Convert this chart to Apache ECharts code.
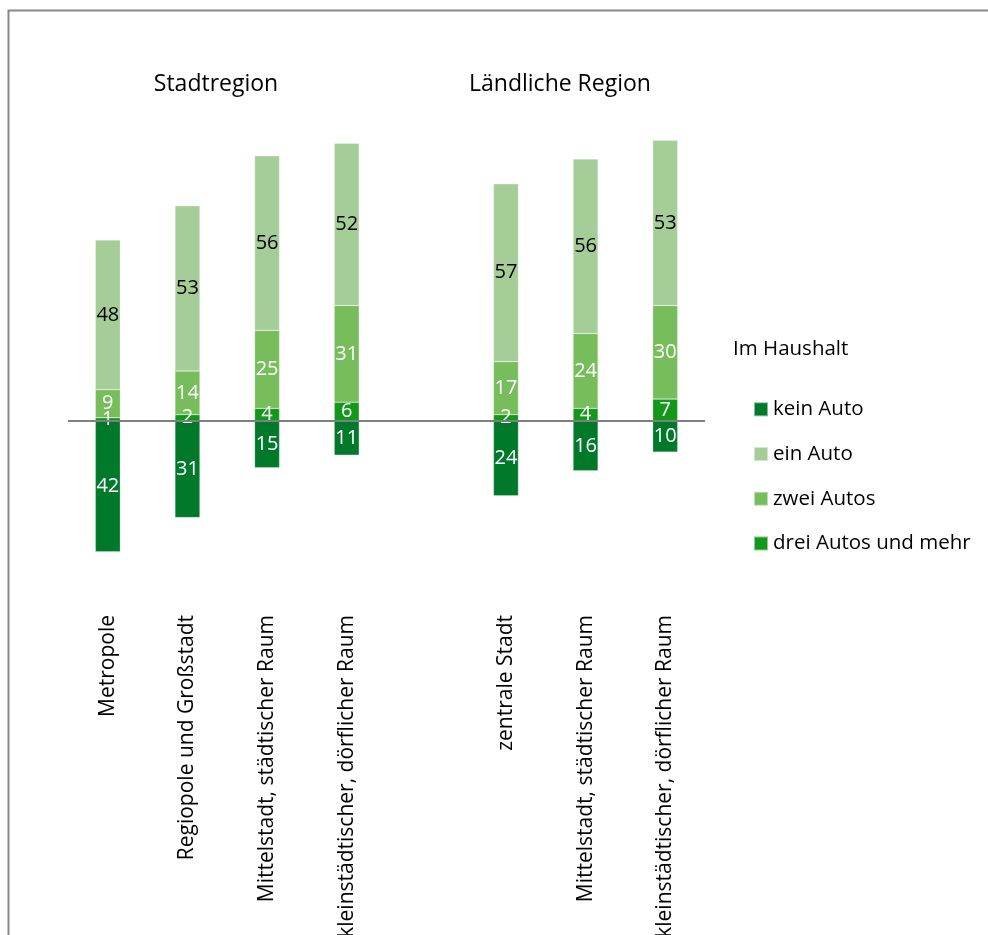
<!DOCTYPE html>
<html>
<head>
<meta charset="utf-8">
<script src="https://cdn.jsdelivr.net/npm/echarts@6/dist/echarts.min.js"></script>
<style>
html,body{margin:0;padding:0;background:#fff;}
#chart{width:988px;height:935px;}
</style>
</head>
<body>
<div id="chart"></div>
<script>
const categories = ['Metropole', 'Regiopole und Großstadt', 'Mittelstadt, städtischer Raum', 'kleinstädtischer, dörflicher Raum', '', 'zentrale Stadt', 'Mittelstadt, städtischer Raum', 'kleinstädtischer, dörflicher Raum'];
const keinAuto = [42, 31, 15, 11, null, 24, 16, 10];
const einAuto = [48, 53, 56, 52, null, 57, 56, 53];
const zweiAutos = [9, 14, 25, 31, null, 17, 24, 30];
const dreiAutos = [1, 2, 4, 6, null, 2, 4, 7];
const seriesNames = ['kein Auto', 'ein Auto', 'zwei Autos', 'drei Autos und mehr'];
const groupTitles = ['Stadtregion', 'Ländliche', 'Region'];
const legendTitle = 'Im Haushalt';

const FONT = 'Open Sans';
const colors = {
  'kein Auto': '#00792B',
  'ein Auto': '#A5CD98',
  'zwei Autos': '#77BD5C',
  'drei Autos und mehr': '#12991C'
};

function mkSeries(name, data, neg, labelColor) {
  return {
    name: name,
    type: 'bar',
    stack: 'total',
    barWidth: 25,
    data: data.map(v => v == null ? null : (neg ? -v : v)),
    itemStyle: { color: colors[name], borderColor: 'rgba(255,255,255,0.5)', borderWidth: 0.5 },
    label: {
      show: true,
      position: 'inside',
      color: labelColor,
      fontFamily: FONT,
      fontSize: 20,
      formatter: p => p.value == null ? '' : Math.abs(p.value)
    }
  };
}

const chart = echarts.init(document.getElementById('chart'), null, { renderer: 'canvas' });
const series = [
  mkSeries('kein Auto', keinAuto, true, '#ffffff'),
  mkSeries('drei Autos und mehr', dreiAutos, false, '#ffffff'),
  mkSeries('zwei Autos', zweiAutos, false, '#ffffff'),
  mkSeries('ein Auto', einAuto, false, '#000000')
];
series[0].markLine = {
  silent: true,
  symbol: 'none',
  label: { show: false },
  lineStyle: { color: '#7f7f7f', width: 2, type: 'solid' },
  data: [{ yAxis: 0 }]
};

chart.setOption({
  animation: false,
  backgroundColor: '#ffffff',
  grid: { left: 68, right: 283, top: 109, bottom: 935 - 608, containLabel: false, outerBoundsMode: 'none' },
  xAxis: {
    type: 'category',
    data: categories,
    axisLine: { show: false, onZero: false },
    axisTick: { show: false },
    axisLabel: { rotate: 90, interval: 0, margin: 7, color: '#000', fontFamily: FONT, fontSize: 21 }
  },
  yAxis: {
    type: 'value',
    min: -60, max: 100, interval: 20,
    show: false
  },
  legend: {
    orient: 'vertical',
    left: 753, top: 397,
    padding: 0,
    itemWidth: 14, itemHeight: 14,
    itemGap: 20,
    icon: 'rect',
    data: seriesNames,
    textStyle: { fontFamily: FONT, fontSize: 20.5, color: '#000', lineHeight: 24.7 }
  },
  graphic: [
    { type: 'rect', shape: { x: 8.5, y: 10.5, width: 1000, height: 1000 }, style: { fill: 'none', stroke: '#888', lineWidth: 2 }, silent: true },
    { type: 'text', x: 216, y: 84, style: { text: groupTitles[0], fontFamily: FONT, fontSize: 23, fill: '#000', align: 'center', verticalAlign: 'middle' } },
    { type: 'text', x: 560, y: 84, style: {
        text: '{a|' + groupTitles[1] + '\u00a0}{b|' + groupTitles[2] + '}',
        align: 'center', verticalAlign: 'middle',
        rich: { a: { fontFamily: FONT, fontSize: 23, color: '#000' }, b: { fontFamily: FONT, fontSize: 23, color: '#666' } }
      } },
    { type: 'text', x: 733, y: 349, style: { text: legendTitle, fontFamily: FONT, fontSize: 20.5, fill: '#000', verticalAlign: 'middle' } }
  ],
  series: series
});
</script>
</body>
</html>
